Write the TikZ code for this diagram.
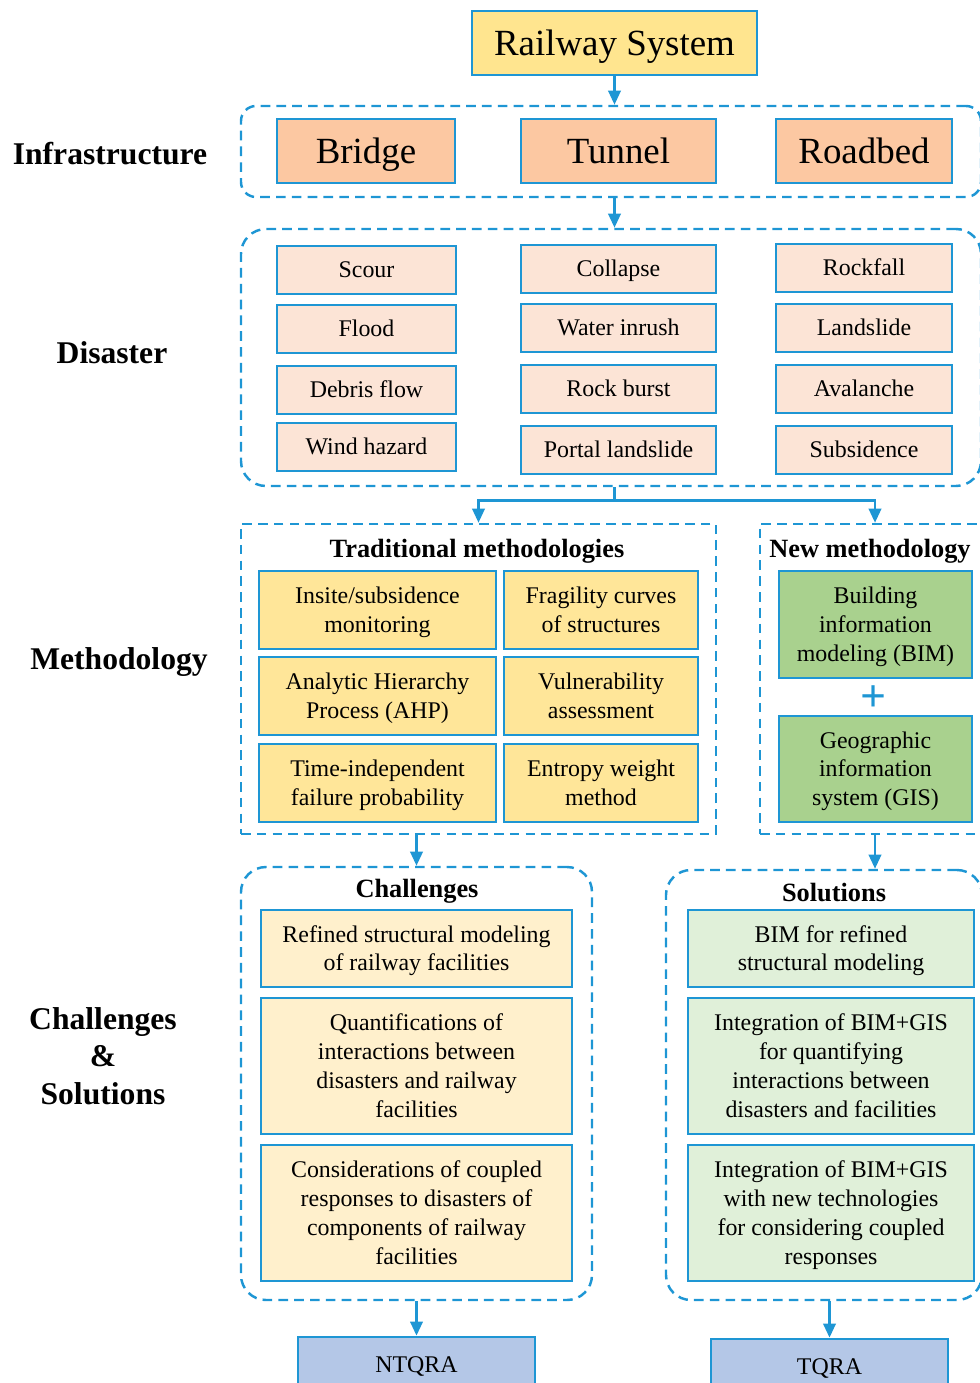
\documentclass[tikz,border=0pt]{standalone}
\usepackage{fontspec}
\setmainfont{Liberation Serif}
\usetikzlibrary{arrows.meta}

\definecolor{lineblue}{RGB}{30,150,212}
\definecolor{railfill}{RGB}{255,229,143}
\definecolor{peach}{RGB}{252,200,162}
\definecolor{pinkfill}{RGB}{252,228,214}
\definecolor{methfill}{RGB}{255,230,153}
\definecolor{newfill}{RGB}{169,209,142}
\definecolor{challfill}{RGB}{255,240,204}
\definecolor{solfill}{RGB}{224,240,217}
\definecolor{qrafill}{RGB}{180,199,231}

\begin{document}
\begin{tikzpicture}[
    x=0.02cm,
    y=-0.02cm,
    >={Triangle[length=8pt,width=7pt]},
    box/.style={draw=lineblue, line width=1.5pt, align=center, inner sep=2pt},
    wh/.style 2 args={minimum width=#1*0.02cm, minimum height=#2*0.02cm},
    group/.style={draw=lineblue, line width=1.4pt, dash pattern=on 5.5pt off 3.5pt},
    conn/.style={draw=lineblue, line width=1.5pt, ->},
    side/.style={align=center, font=\bfseries\fontsize{18pt}{21.5pt}\selectfont},
    head/.style={font=\bfseries\fontsize{15pt}{17pt}\selectfont},
    big/.style={font=\fontsize{21pt}{24pt}\selectfont, text height=17pt, text depth=2.5pt},
    small/.style={font=\fontsize{13.6pt}{16.4pt}\selectfont},
    % fixed text boxes, so that every label sits at the same height
    one/.style={text height=11pt, text depth=2pt},
    two/.style={text height=27.4pt, text depth=2pt},
    three/.style={text height=43.8pt, text depth=2pt},
    four/.style={text height=60.2pt, text depth=2pt}
]

\useasboundingbox (0,0) rectangle (980,1383);
\clip (0,0) rectangle (980,1383);

% =========================
% Row labels
% =========================
\node[side] (lInfra) at (110,154) {Infrastructure};
\node[side] (lDis) at (112,353) {Disaster};
\node[side] (lMeth) at (119,662) {Methodology};
\node[side] (lCS) at (103,1056) {Challenges\\\&\\Solutions};

% =========================
% Railway system and infrastructure
% =========================
\node[box, big, fill=railfill, wh={285}{64}] (rail) at (614.5,43) {Railway System};

\node[group, rounded corners=0.3cm, wh={740}{91}] (infra) at (611,151.5) {};
\node[box, big, fill=peach, wh={178}{64}] (bridge) at (366,151) {Bridge};
\node[box, big, fill=peach, wh={195}{64}] (tunnel) at (618.5,151) {Tunnel};
\node[box, big, fill=peach, wh={176}{64}] (roadbed) at (864,151) {Roadbed};

% =========================
% Disasters
% =========================
\node[group, rounded corners=0.5cm, wh={740}{257}] (dis) at (611,357.5) {};

\node[box, small, one, fill=pinkfill, wh={179}{48}] (scour) at (366.5,270) {Scour};
\node[box, small, one, fill=pinkfill, wh={179}{48}] (flood) at (366.5,329) {Flood};
\node[box, small, one, fill=pinkfill, wh={179}{48}] (debris) at (366.5,390) {Debris flow};
\node[box, small, one, fill=pinkfill, wh={179}{48}] (wind) at (366.5,447) {Wind hazard};

\node[box, small, one, fill=pinkfill, wh={195}{48}] (collapse) at (618.5,269) {Collapse};
\node[box, small, one, fill=pinkfill, wh={195}{48}] (inrush) at (618.5,328) {Water inrush};
\node[box, small, one, fill=pinkfill, wh={195}{48}] (burst) at (618.5,389) {Rock burst};
\node[box, small, one, fill=pinkfill, wh={195}{48}] (portal) at (618.5,450) {Portal landslide};

\node[box, small, one, fill=pinkfill, wh={176}{48}] (rockfall) at (864,268) {Rockfall};
\node[box, small, one, fill=pinkfill, wh={176}{48}] (landslide) at (864,328) {Landslide};
\node[box, small, one, fill=pinkfill, wh={176}{48}] (avalanche) at (864,389) {Avalanche};
\node[box, small, one, fill=pinkfill, wh={176}{48}] (subsid) at (864,450) {Subsidence};

% =========================
% Methodologies
% =========================
\node[group, wh={475}{310}] (trad) at (478.5,679) {};
\node[head] (tradTitle) at (477,551) {Traditional methodologies};

\node[box, small, two, fill=methfill, wh={237}{78}] (insite) at (377.5,610) {Insite/subsidence\\monitoring};
\node[box, small, two, fill=methfill, wh={237}{78}] (ahp) at (377.5,696) {Analytic Hierarchy\\Process (AHP)};
\node[box, small, two, fill=methfill, wh={237}{78}] (tifp) at (377.5,783) {Time-independent\\failure probability};
\node[box, small, two, fill=methfill, wh={194}{78}] (fragility) at (601,610) {Fragility curves\\of structures};
\node[box, small, two, fill=methfill, wh={194}{78}] (vuln) at (601,696) {Vulnerability\\assessment};
\node[box, small, two, fill=methfill, wh={194}{78}] (entropy) at (601,783) {Entropy weight\\method};

\node[group, wh={230}{310}] (new) at (875,679) {};
\node[head] (newTitle) at (870,551) {New methodology};

\node[box, small, three, fill=newfill, wh={193}{107}] (bim) at (875.5,624.5) {Building\\information\\modeling (BIM)};
\node[text=lineblue, font=\bfseries\fontsize{26pt}{26pt}\selectfont] (plus) at (874,699) {+};
\node[box, small, three, fill=newfill, wh={193}{106}] (gis) at (875.5,769) {Geographic\\information\\system (GIS)};

% =========================
% Challenges & solutions
% =========================
\node[group, rounded corners=0.5cm, wh={351}{433}] (chall) at (416.5,1083.5) {};
\node[head] (challTitle) at (417,891) {Challenges};

\node[box, small, two, fill=challfill, wh={311}{77}] (ch1) at (416.5,948.5) {Refined structural modeling\\of railway facilities};
\node[box, small, four, fill=challfill, wh={311}{136}] (ch2) at (416.5,1066) {Quantifications of\\interactions between\\disasters and railway\\facilities};
\node[box, small, four, fill=challfill, wh={311}{136}] (ch3) at (416.5,1213) {Considerations of coupled\\responses to disasters of\\components of railway\\facilities};

\node[group, rounded corners=0.5cm, wh={316}{430}] (sol) at (824,1085) {};
\node[head] (solTitle) at (834,893) {Solutions};

\node[box, small, two, fill=solfill, wh={286}{77}] (so1) at (831,948.5) {BIM for refined\\structural modeling};
\node[box, small, four, fill=solfill, wh={286}{136}] (so2) at (831,1066) {Integration of BIM+GIS\\for quantifying\\interactions between\\disasters and facilities};
\node[box, small, four, fill=solfill, wh={286}{136}] (so3) at (831,1213) {Integration of BIM+GIS\\with new technologies\\for considering coupled\\responses};

% =========================
% Assessment outputs
% =========================
\node[box, small, one, fill=qrafill, wh={237}{56}] (ntqra) at (416.5,1365) {NTQRA};
\node[box, small, one, fill=qrafill, wh={237}{56}] (tqra) at (829.5,1367) {TQRA};

% =========================
% Connectors
% =========================
\draw[conn] (rail.south) -- (rail.south |- infra.north);
\draw[conn] (rail.south |- infra.south) -- (rail.south |- dis.north);
\draw[conn] (rail.south |- dis.south) -- ++(0,13) -| (trad.north);
\draw[conn] (rail.south |- dis.south) -- ++(0,13) -| (new.north);
\draw[conn] (chall.north |- trad.south) -- (chall.north);
\draw[conn] (new.south) -- (new.south |- sol.north);
\draw[conn] (chall.south) -- (ntqra.north);
\draw[conn] (tqra.north |- sol.south) -- (tqra.north);

\end{tikzpicture}
\end{document}
